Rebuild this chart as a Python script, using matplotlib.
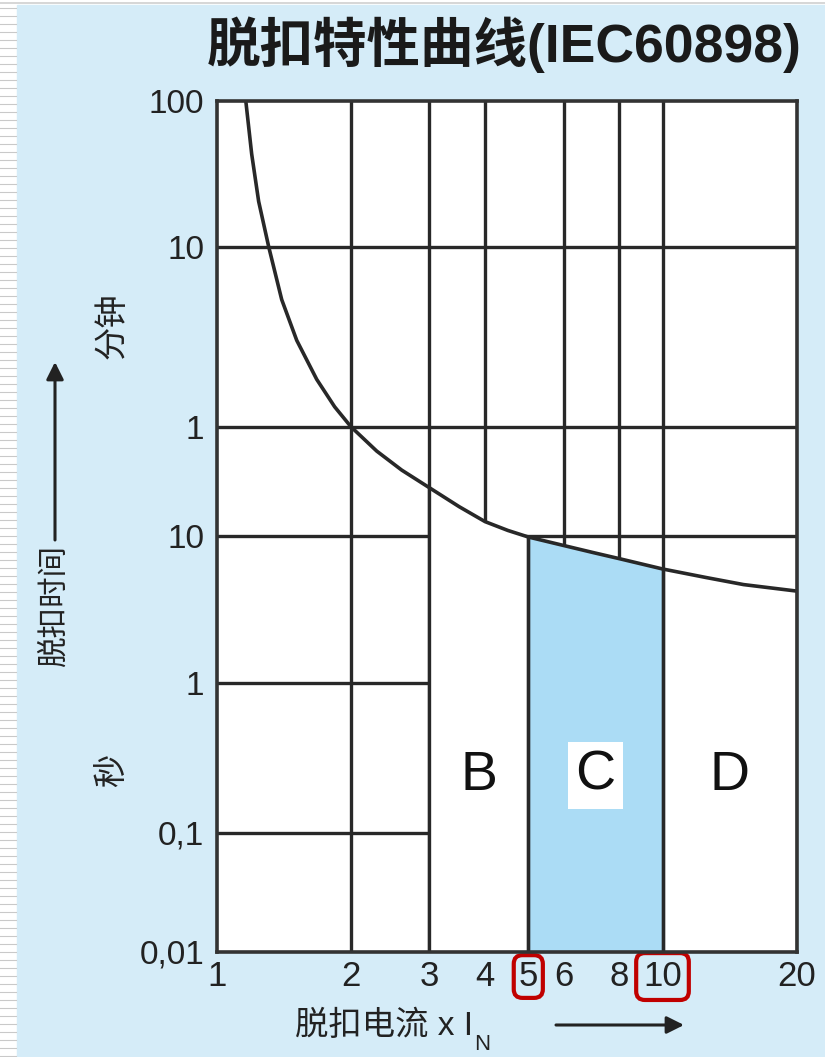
"""Tripping characteristic curve (IEC 60898) - B / C / D zones on a log-current grid."""

import matplotlib.pyplot as plt
import numpy as np
from matplotlib.lines import Line2D
from matplotlib.patches import Rectangle

plt.rcParams["font.family"] = ["Liberation Sans", "Noto Sans CJK SC"]

# Tripping curve: current as multiple of I_N, time in seconds
curve_current = [1.162, 1.198, 1.242, 1.308, 1.399, 1.512, 1.676, 1.839, 2.0,
                 2.285, 2.60, 3.0, 3.5, 4.0, 4.5, 5.0, 6.0, 7.0, 8.0, 10.0,
                 12.5, 15.2, 20.0]
curve_time = [6000, 2588, 1225, 600, 305, 181, 110, 77.4, 60,
              40.2, 29.4, 22.0, 16.1, 12.6, 10.9, 9.8, 8.58, 7.67, 6.98, 5.94,
              5.2, 4.65, 4.2]

x_ticks = [1, 2, 3, 4, 5, 6, 8, 10, 20]
x_tick_labels = ["1", "2", "3", "4", "5", "6", "8", "10", "20"]
y_ticks = [0.01, 0.1, 1, 10, 60, 600, 6000]  # seconds (60 s = 1 min ...)
y_tick_labels = ["0,01", "0,1", "1", "10", "1", "10", "100"]

x_grid = [2, 3, 4, 6, 8, 10]
y_grid = [0.1, 1, 10, 60, 600]

zone_names = ["B", "C", "D"]
zone_edges = [(3, 5), (5, 10), (10, 20)]
zone_label_time = 0.24

# Colours
BG_BLUE = "#d5ecf8"
ZONE_BLUE = "#abdcf5"
INK = "#282828"
TEXT = "#222222"
RED = "#c00000"

# The printed time axis is not an even log scale: height (px above the
# bottom edge) of each tick row as it sits in the picture.
Y_KNOTS = [0, 119, 269, 416, 525, 705, 851]
LOG_TICKS = np.log10(y_ticks)


def forward(t):
    t = np.clip(np.asarray(t, dtype=float), 1e-9, None)
    return np.interp(np.log10(t), LOG_TICKS, Y_KNOTS)


def inverse(h):
    return 10 ** np.interp(np.asarray(h, dtype=float), Y_KNOTS, LOG_TICKS)


W, H = 825, 1057


def px(x, y):
    """Figure fraction from pixel coordinates measured from the top-left."""
    return x / W, 1 - y / H


fig = plt.figure(figsize=(W / 100, H / 100), dpi=100, facecolor="white")

# slide background: blue panel with a ruled white strip on the left
fig.add_artist(Rectangle(px(17, H), (W - 17) / W, (H - 5) / H,
                         transform=fig.transFigure, color=BG_BLUE, zorder=0))
for yy in np.arange(8, H, 8):
    fig.add_artist(Line2D([0, 16 / W], [1 - yy / H] * 2, transform=fig.transFigure,
                          color="#c9c9c9", lw=0.8, zorder=0))
fig.add_artist(Line2D([0, 1], [1 - 3 / H] * 2, transform=fig.transFigure,
                      color="#d0d0d0", lw=1.2, zorder=0))

ax = fig.add_axes([216.7 / W, 1 - 951.7 / H, 580 / W, 851 / H])
ax.set_facecolor("white")
ax.set_xscale("log")
ax.set_yscale("function", functions=(forward, inverse))
ax.set_xlim(1, 20)
ax.set_ylim(0.01, 6000)

cx = np.array(curve_current)
ct = np.array(curve_time)
edge_time = dict(zip(curve_current, curve_time))

# grid
for x in x_grid:
    ax.axvline(x, color=INK, lw=2.4, zorder=1)
for y in y_grid:
    ax.axhline(y, color=INK, lw=2.4, zorder=1)

# B / C / D zones under the curve
for name, (lo, hi) in zip(zone_names, zone_edges):
    mask = (cx >= lo) & (cx <= hi)
    ax.fill_between(cx[mask], ct[mask], 0.01, lw=0, zorder=2,
                    color=ZONE_BLUE if name == "C" else "white")
    ax.vlines([lo, hi], 0.01, [edge_time[lo], edge_time[hi]], color=INK, lw=2.4, zorder=3)
    box = dict(boxstyle="square,pad=0.14", fc="white", ec="none") if name == "C" else None
    ax.text(np.sqrt(lo * hi), zone_label_time, name, ha="center", va="center",
            fontsize=40, color="#111111", zorder=4, bbox=box)

ax.plot(cx, ct, color=INK, lw=2.6, zorder=4, solid_joinstyle="round")

for s in ax.spines.values():
    s.set_linewidth(2.6)
    s.set_color("#333333")
    s.set_zorder(5)

ax.minorticks_off()
ax.set_xticks(x_ticks, x_tick_labels)
ax.set_yticks(y_ticks, y_tick_labels)
ax.tick_params(axis="both", length=0, colors=TEXT)
ax.tick_params(axis="x", pad=6, labelsize=25)
ax.tick_params(axis="y", pad=9, labelsize=24)
for lbl in ax.get_xticklabels():
    if lbl.get_text() == "5":
        lbl.set_bbox(dict(boxstyle="round,pad=0.14,rounding_size=0.25",
                          fc="none", ec=RED, lw=3))
    elif lbl.get_text() == "10":
        lbl.set_bbox(dict(boxstyle="round,pad=0.2,rounding_size=0.25",
                          fc="none", ec=RED, lw=3))

# title and axis captions
fig.text(*px(802, 45), "脱扣特性曲线(IEC60898)", ha="right", va="center",
         fontsize=38.5, fontweight="bold", color="#1a1a1a")
fig.text(*px(113, 326), "分钟", rotation=90, ha="center", va="center",
         fontsize=24, fontweight="medium", color=TEXT)
fig.text(*px(113, 770), "秒", rotation=90, ha="center", va="center",
         fontsize=24, fontweight="medium", color=TEXT)

fig.text(*px(55, 606), "脱扣时间", rotation=90, ha="center", va="center",
         fontsize=22, color=TEXT)
ax.annotate("", xy=px(55, 362), xytext=px(55, 540), xycoords="figure fraction",
            arrowprops=dict(arrowstyle="-|>", lw=2.2, color="#222222",
                            mutation_scale=26, shrinkA=0, shrinkB=0))

xlab = fig.text(*px(295, 1026), "脱扣电流 x I", ha="left", va="center",
                fontsize=24, color=TEXT)
ax.annotate("N", xy=(1, 0), xycoords=xlab, xytext=(1, -2), textcoords="offset points",
            ha="left", va="center", fontsize=16, color=TEXT)
ax.annotate("", xy=px(684, 1025), xytext=px(556, 1025), xycoords="figure fraction",
            arrowprops=dict(arrowstyle="-|>", lw=2.2, color="#222222",
                            mutation_scale=26, shrinkA=0, shrinkB=0))

fig.savefig("out.png", dpi=100, facecolor=fig.get_facecolor())
